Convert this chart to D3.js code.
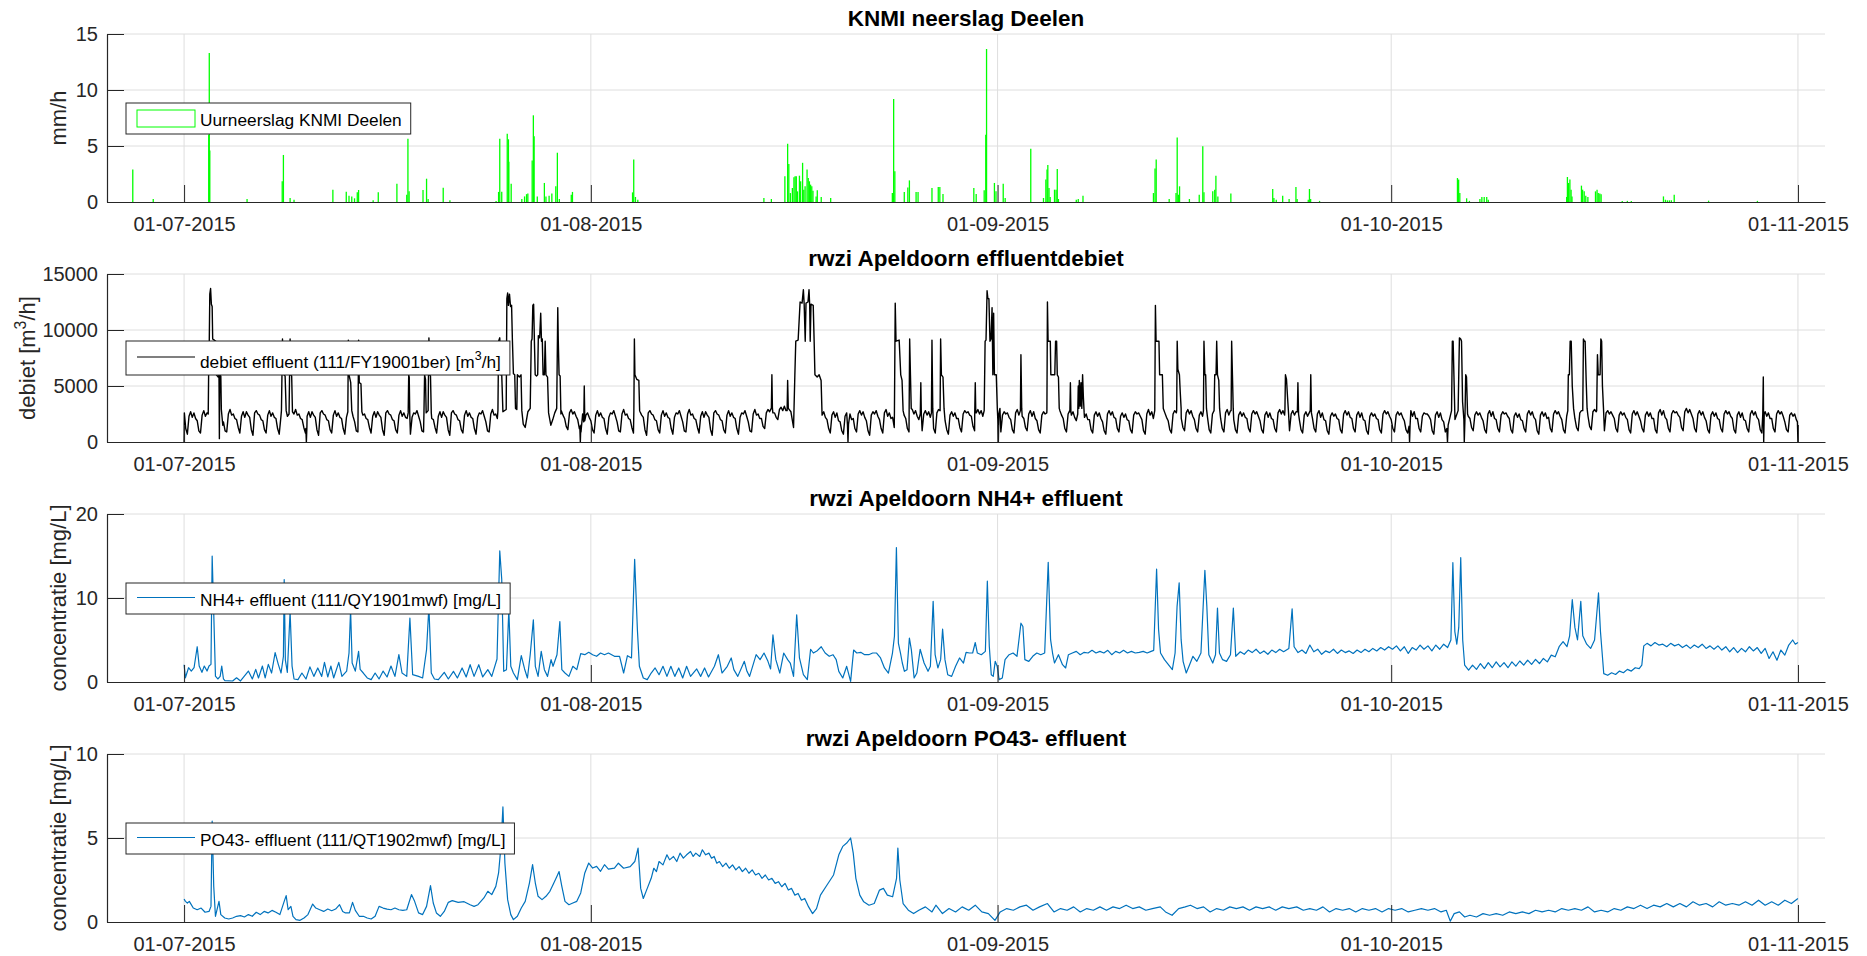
<!DOCTYPE html>
<html>
<head>
<meta charset="utf-8">
<script src="https://cdn.jsdelivr.net/npm/d3@7"></script>
<style>
	body { margin: 0; background: #fff; }
	text { font-family: "Liberation Sans", Arial, Helvetica, sans-serif; }
</style>
</head>
<body>
<div id="chart"></div>
<script>
// Time is stored as days after 01-07-2015 00:00

// Hourly rain, [day, mm/h]
var rainJul = [[-3.91,2.9],[-2.35,0.27],[1.88,6.0],[1.92,13.3],[1.96,4.6],[4.80,0.27],[7.48,1.85],[7.57,4.2],[8.08,0.36],[8.38,0.2],
	[11.34,1.1],[12.36,0.92],[12.57,0.56],[12.78,0.5],[12.99,0.33],[13.2,0.86],[13.3,1.07],[14.41,0.15],[14.8,0.86],[16.22,1.64],
	[16.97,0.65],[17.06,5.65],[17.15,0.95],[18.21,1.07],[18.48,2.08],[18.6,0.27],[19.75,1.28],[20.26,0.15],[23.78,0.1],[23.97,0.9],
	[24.06,5.65],[24.21,0.92],[24.63,6.1],[24.72,5.6],[24.75,3.6],[24.93,1.64],[25.74,0.27],[25.95,0.5],[26.1,0.7],[26.2,0.75],
	[26.53,3.7],[26.62,7.74],[26.68,5.86],[26.92,0.5],[27.46,1.7],[27.58,0.5],[27.82,0.56],[28.03,0.75],[28.33,1.4],[28.45,4.4],
	[28.6,0.27],[29.51,0.65],[29.6,0.9]];
var rainAug = [[34.18,0.86],[34.27,3.8],[34.4,0.45],[34.58,0.2],[44.19,0.36],[44.76,0.27],[45.79,2.3],[46.0,5.2],[46.09,3.4],[46.21,0.8],
	[46.36,1.25],[46.48,2.2],[46.57,2.3],[46.66,2.3],[46.75,0.95],[46.9,2.35],[46.99,1.85],[47.14,3.5],[47.23,1.1],[47.33,1.4],
	[47.48,2.9],[47.57,2.15],[47.66,1.85],[47.75,1.55],[47.84,1.4],[47.93,1.0],[48.17,0.5],[48.26,1.04],[48.56,0.45],[49.28,0.36],
	[53.98,0.8],[54.08,9.2],[54.17,2.74],[54.89,0.9],[55.16,1.3],[55.28,1.93],[55.79,0.9],[55.94,0.9],[57.0,1.25],[57.48,1.34],
	[57.6,1.34],[57.84,0.71],[60.19,1.25],[60.37,0.71],[60.98,1.04],[61.1,6.0],[61.16,13.66],[61.76,1.7],[61.88,0.95]];
var rainSep = [[62.43,1.64],[62.58,0.36],[64.53,4.76],[65.5,0.36],[65.68,2.0],[65.77,2.9],[65.83,3.3],[65.92,1.25],[66.01,0.45],
	[66.34,1.1],[66.46,1.1],[66.55,2.95],[66.64,0.27],[68.0,0.2],[68.15,0.27],[68.51,0.56],[73.88,0.8],[74.0,3.0],[74.09,3.8],
	[75.08,0.27],[75.6,0.8],[75.69,5.77],[75.78,0.65],[75.87,1.4],[76.62,0.27],[77.37,0.65],[77.64,4.97],[77.73,0.86],[78.4,0.95],
	[78.55,1.1],[78.64,2.35],[78.79,0.5],[79.78,0.75],[82.97,1.16],[83.06,0.36],[83.24,0.2],[83.73,0.56],[84.22,0.27],[84.74,1.34],
	[84.83,0.27],[85.68,0.2],[85.77,1.16],[85.86,0.27],[86.54,0.1]];
var rainOct = [[97.05,2.14],[97.14,2.0],[97.23,0.8],[97.75,0.33],[97.96,0.1],[98.76,0.27],[98.91,0.45],[99.09,0.45],[99.28,0.45],
	[99.4,0.2],[105.37,0.45],[105.43,2.23],[105.52,1.7],[105.62,2.0],[105.71,1.1],[105.78,0.5],[106.5,1.46],[106.59,1.1],[106.71,0.95],
	[106.83,0.56],[106.99,0.45],[107.57,0.95],[107.69,1.1],[107.78,0.8],[107.9,0.75],[108.0,0.7],[109.61,0.1],[110.0,0.1],[110.3,0.1],
	[112.75,0.5],[112.9,0.2],[113.05,0.15],[113.2,0.15],[113.35,0.15],[113.57,0.65],[116.19,0.12],[119.91,0.1]];

// Effluent flow, dry weather, every 3 hours (00 .. 21 h), one row per day [m3/h]
var debietJul = [
	2500,1200,700,2300,2700,2200,2600,2100,  1900,1000,800,2400,2800,2300,2600,2200,  2100,1200,700,2200,2600,2500,2800,2300,
	1800,1000,900,2500,2900,2400,2500,2100,  2000,1300,800,2300,2700,2200,2700,2400,  2200,1100,600,2600,2800,2500,2400,2000,
	1900,1100,800,2400,2800,2300,2600,2200,  2100,1200,700,2200,2600,2500,2800,2300,  1800,1000,900,2500,2900,2400,2500,2100,
	2000,1300,800,2300,2700,2200,2700,2400,  2200,1100,600,2600,2800,2500,2400,2000,  1900,1100,800,2400,2800,2300,2600,2200,
	2100,1200,700,2200,2600,2500,2800,2300,  1800,1000,900,2500,2900,2400,2500,2100,  2000,1300,800,2300,2700,2200,2700,2400,
	2200,1100,600,2600,2800,2500,2400,2000,  1900,1100,800,2400,2800,2300,2600,2200,  2100,1200,700,2200,2600,2500,2800,2300,
	1800,1000,900,2500,2900,2400,2500,2100,  2000,1300,800,2300,2700,2200,2700,2400,  2200,1100,600,2600,2800,2500,2400,2000,
	1900,1100,800,2400,2800,2300,2600,2200,  2100,1200,700,2200,2600,2500,2800,2300,  1800,1000,900,2500,2900,2400,2500,2100,
	2400,1800,1500,2800,3100,2700,2900,2600,  2300,1700,1400,2900,3000,2800,2700,2500,  2400,1800,1500,2800,3100,2700,2900,2600,
	2300,1700,1400,2900,3000,2800,2700,2500,  2200,1600,1300,2700,3000,2600,2800,2400,  2100,1400,1100,2600,2900,2500,2700,2300,
	2000,1200,900,2500,2800,2400,2600,2200];
var debietAug = [
	1900,1100,800,2400,2800,2300,2600,2200,  2100,1200,700,2200,2600,2500,2800,2300,  1800,1000,900,2500,2900,2400,2500,2100,
	2000,1300,800,2300,2700,2200,2700,2400,  2200,1100,600,2600,2800,2500,2400,2000,  1900,1100,800,2400,2800,2300,2600,2200,
	2100,1200,700,2200,2600,2500,2800,2300,  1800,1000,900,2500,2900,2400,2500,2100,  2000,1300,800,2300,2700,2200,2700,2400,
	2200,1100,600,2600,2800,2500,2400,2000,  1900,1100,800,2400,2800,2300,2600,2200,  2100,1200,700,2200,2600,2500,2800,2300,
	1800,1000,900,2500,2900,2400,2500,2100,  2100,1400,1200,2600,2900,2700,3000,2600,  2600,2200,2000,2900,3100,2800,3200,2800,
	2700,2000,1500,2900,3000,2700,2800,2600,  2500,1700,1200,2700,2900,2500,2800,2400,  2300,1500,1100,2600,2800,2400,2700,2200,
	2000,1200,800,2400,2700,2200,2600,1900,  1800,1000,700,2300,2600,2300,2500,2000,  2100,1200,900,2500,2800,2400,2700,2200,
	1900,1000,600,2400,2700,2500,2800,2300,  2000,1200,800,2600,2900,2300,2600,2100,  2200,1300,700,2500,2800,2600,2700,2400,
	2100,1200,900,2600,2900,2500,2800,2300,  2000,1300,1000,2500,2800,2400,2700,2200,  2200,1200,800,2600,2900,2500,2800,2300,
	1900,1100,700,2400,2700,2300,2600,2100,  2100,1300,900,2500,2800,2600,2700,2400,  2300,1400,1000,2600,2900,2500,2800,2300,
	2200,1400,1100,2500,2800,2400,2700,2200];
var debietSep = [
	1800,1200,900,2400,2700,2500,2600,2200,  2000,1100,800,2600,2900,2400,2800,2300,  2100,1300,1000,2500,2800,2300,2700,2100,
	1900,1100,800,2400,2700,2500,2600,2300,  2200,1300,1000,2700,2900,2600,2800,2400,  2100,1200,900,2500,2800,2400,2700,2200,
	1900,1000,700,2300,2600,2200,2500,2000,  2000,1100,800,2400,2700,2300,2600,2100,  1800,1000,700,2500,2800,2400,2700,2200,
	2100,1200,900,2300,2600,2200,2500,2000,  1900,1100,800,2400,2700,2500,2600,2300,  2000,1000,700,2500,2900,2400,2700,2100,
	2200,1200,900,2400,2700,2300,2600,2200,  1900,1100,800,2500,2800,2600,2700,2400,  2100,1300,1000,2600,2900,2500,2800,2300,
	2000,1200,900,2400,2700,2300,2600,2200,  2200,1100,800,2500,2800,2600,2700,2400,  2100,1200,900,2600,2900,2400,2800,2300,
	2000,1100,800,2400,2700,2300,2600,2200,  2100,1200,900,2500,2800,2500,2700,2300,  1900,1100,800,2400,2700,2200,2600,2100,
	2000,1200,900,2600,2900,2500,2800,2400,  2200,1300,1000,2500,2800,2400,2700,2300,  2000,1100,800,2400,2700,2300,2600,2200,
	2100,1200,900,2500,2800,2200,2600,2000,  1900,1000,700,2300,2600,2300,2500,2100,  2000,1100,800,2500,2800,2400,2700,2200,
	2100,1200,900,2400,2700,2200,2600,2000,  1900,1000,700,2300,2600,2300,2500,2100,  2000,1100,800,2500,2800,2500,2700,2300];
var debietOct = [
	2000,1200,900,2400,2700,2400,2600,2200,  1900,1100,800,2500,2800,2300,2700,2100,  2100,1200,900,2300,2600,2500,2500,2300,
	2000,1000,700,2400,2700,2200,2600,2000,  1800,900,600,2200,2500,2100,2400,1900,  2000,1200,900,2500,2800,2500,2700,2300,
	2100,1300,1000,2400,2700,2400,2600,2200,  1900,1100,800,2500,2800,2300,2700,2100,  2000,1200,900,2400,2700,2500,2600,2300,
	2100,1100,800,2300,2600,2200,2500,2000,  1900,1200,900,2500,2800,2400,2700,2200,  2000,1000,700,2400,2700,2300,2600,2100,
	2200,1200,900,2500,2800,2500,2700,2300,  2000,1100,800,2300,2600,2300,2500,2100,  2100,1300,1000,2600,2800,2600,2700,2500,
	2300,1400,1100,2700,2900,2700,2800,2600,  2200,1300,1000,2600,2800,2500,2700,2400,  2100,1200,900,2400,2700,2400,2600,2200,
	2000,1100,800,2500,2800,2400,2700,2300,  1900,1200,900,2400,2700,2300,2600,2100,  2100,1100,800,2600,2900,2400,2800,2200,
	2000,1200,900,2500,2800,2600,2700,2400,  2200,1300,1000,2700,3000,2600,2900,2500,  2100,1200,900,2500,2800,2400,2700,2200,
	1900,1100,800,2400,2700,2300,2600,2100,  2000,1200,900,2500,2800,2500,2700,2300,  2100,1100,800,2400,2700,2200,2600,2000,
	1900,1200,900,2500,2800,2400,2700,2200,  2000,1100,800,2400,2700,2300,2600,2100,  2100,1200,900,2500,2800,2500,2700,2300,
	1800,1100,900,2400,2600,2300,2500,2000];

// Effluent flow during rain events and dips, [day, m3/h]
var debietEventsJul = [
	[[0,0],[0.02,2600]],
	[[1.84,2500],[1.87,6000],[1.92,9000],[1.96,13200],[2.02,13700],[2.08,12300],[2.14,12100],[2.18,9200],[2.30,9100],[2.42,9000],
	 [2.46,6000],[2.60,5800],[2.66,6000],[2.69,300],[2.72,6000],[2.80,5900],[2.84,2900],[2.95,1500]],
	[[7.42,2800],[7.46,6000],[7.50,9200],[7.54,6100],[7.70,5900],[7.78,2800]],
	[[8.00,2500],[8.04,6000],[8.08,9200],[8.13,6000],[8.20,5900],[8.26,2700]],
	[[9.28,1200],[9.32,0],[9.36,1300]],
	[[12.48,2700],[12.52,9100],[12.57,6000],[12.70,5300],[12.78,2800]],
	[[13.26,2800],[13.30,9100],[13.35,5300],[13.48,5200],[13.55,2700]],
	[[17.08,2600],[17.12,6000],[17.16,5800],[17.20,2500]],
	[[18.28,2500],[18.33,6000],[18.40,5600],[18.45,2600],[18.60,2800],[18.66,9300],[18.72,6000],[18.78,5900],[18.84,2600]],
	[[23.92,2800],[23.97,9000],[24.06,9300],[24.12,6000],[24.21,6000],[24.30,2700],[24.55,2900],[24.60,12800],[24.66,13300],
	 [24.72,12200],[24.80,13200],[24.88,12100],[24.96,12200],[25.02,9200],[25.10,6100],[25.20,6000],[25.26,3000],[25.36,2900],
	 [25.40,6000],[25.55,5800],[25.68,6000],[25.74,2800],[25.85,1600],[26.0,1300],[26.2,2700],[26.38,3000],[26.46,9000],
	 [26.52,9200],[26.58,12200],[26.64,12300],[26.70,9000],[26.76,6000],[26.86,5900],[26.95,6000],[27.00,9500],[27.10,9300],
	 [27.18,11500],[27.24,9000],[27.30,9200],[27.36,6000],[27.46,6000],[27.52,9000],[27.58,6000],[27.70,5800],[27.78,2600],
	 [27.95,1500],[28.10,2000],[28.25,2600],[28.40,3000],[28.48,12000],[28.52,9000],[28.58,6000],[28.66,5900],[28.72,2500]],
	[[30.16,1400],[30.20,0],[30.24,1500]],
	[[30.46,1800],[30.50,5000],[30.54,1900]]
];
var debietEventsAug = [
	[[34.28,2800],[34.32,9200],[34.36,6000],[34.50,5600],[34.66,5500],[34.72,2800]],
	[[44.76,3000],[44.80,6000],[44.84,3000]],
	[[45.96,2800],[46.00,5500],[46.05,3000],[46.25,2700],[46.45,1300],[46.55,6000],[46.62,9000],[46.80,9100],[46.95,12500],
	 [47.10,12400],[47.20,13600],[47.26,12300],[47.34,9000],[47.40,12400],[47.55,12500],[47.63,13600],[47.68,12200],[47.72,9000],
	 [47.78,12300],[47.95,12200],[48.02,9000],[48.08,6000],[48.25,5800],[48.40,6000],[48.55,5500],[48.62,2600]],
	[[50.56,1500],[50.60,0],[50.64,1600]],
	[[54.14,2800],[54.20,12400],[54.26,9000],[54.50,9100],[54.62,6000],[54.72,5500],[54.80,2800]],
	[[55.26,2800],[55.30,9200],[55.36,6000],[55.42,3000]],
	[[56.11,2500],[56.15,5300],[56.19,2500]],
	[[56.96,2600],[57.00,9100],[57.06,3000]],
	[[57.62,2800],[57.66,9200],[57.72,6000],[57.84,5800],[57.92,3000]],
	[[60.26,2600],[60.30,5300],[60.34,2600]],
	[[60.98,2800],[61.05,9000],[61.12,9100],[61.20,13500],[61.26,12800],[61.34,12800],[61.42,9000],[61.50,9200],[61.58,12000],
	 [61.64,6000],[61.70,11500],[61.76,6000],[61.90,6000],[61.98,3000],[62.02,2000],[62.06,0],[62.10,2500],[62.18,3000]]
];
var debietEventsSep = [
	[[63.74,2800],[63.78,7800],[63.84,3000]],
	[[65.76,2800],[65.80,12500],[65.85,9000],[66.02,9000],[66.06,6000],[66.36,6000],[66.42,9000],[66.50,9000],[66.55,6000],
	 [66.64,5800],[66.70,3000]],
	[[67.51,2700],[67.55,5300],[67.59,2700]],
	[[68.11,2500],[68.15,5000],[68.19,3000],[68.23,5500],[68.30,3200],[68.36,5300],[68.42,3000],[68.48,6000],[68.54,4000],[68.60,2600]],
	[[73.98,2800],[74.03,12200],[74.08,9000],[74.30,9000],[74.35,6000],[74.56,6000],[74.63,3000]],
	[[75.65,2800],[75.69,9000],[75.74,6500],[75.86,6000],[75.92,4500],[75.99,3000]],
	[[77.69,2800],[77.73,9000],[77.80,6000],[77.86,6000],[77.92,3000]],
	[[78.50,2800],[78.55,6000],[78.65,6000],[78.70,9000],[78.76,6000],[78.86,5500],[78.92,3000]],
	[[79.80,2800],[79.84,9000],[79.90,6000],[79.96,3000]],
	[[83.90,2800],[83.94,6000],[84.02,5600],[84.10,4000],[84.18,2500]],
	[[84.85,2700],[84.89,5300],[84.94,2500]],
	[[85.83,2800],[85.87,6000],[85.92,2600]]
];
var debietEventsOct = [
	[[93.36,1400],[93.40,0],[93.44,1500]],
	[[96.24,1200],[96.29,0],[96.34,1500],[96.60,2800],[96.66,9000],[96.72,9000],[96.78,6000],[96.86,2000],[97.10,2800],
	 [97.20,9300],[97.30,9200],[97.36,9000],[97.44,3600],[97.54,2000],[97.57,0],[97.62,2000],[97.68,6000],[97.74,5800],[97.82,2500]],
	[[105.46,2800],[105.50,6000],[105.58,6000],[105.64,9000],[105.72,9000],[105.80,5000],[105.90,3000]],
	[[106.60,2800],[106.65,9200],[106.72,9000],[106.78,9000],[106.86,5500],[106.93,3000]],
	[[107.66,2800],[107.72,7800],[107.78,6000],[107.92,6000],[107.98,9200],[108.04,9000],[108.10,5000],[108.18,3000]],
	[[120.32,2500],[120.36,5800],[120.39,0],[120.43,2500]],
	[[122.96,1800],[123.0,0]]
];

// NH4+ effluent, [day, mg/L]
var nh4Jul = [[0,2.06],[0.1,0.5],[0.34,1.7],[0.55,1.3],[0.76,1.7],[1.0,4.2],[1.15,1.9],[1.36,1.15],[1.54,1.9],[1.75,1.3],[1.9,1.9],
	[2.05,2.1],[2.14,15.0],[2.26,8.2],[2.39,0.7],[2.57,0.36],[2.75,0.67],[2.87,1.9],[3.0,0.36],[3.11,0.16],[3.7,0.12],[4.0,0.5],
	[4.3,0.12],[4.9,1.3],[5.2,0.36],[5.46,1.5],[5.67,0.48],[5.97,1.9],[6.18,0.48],[6.42,2.1],[6.67,1.07],[6.94,3.5],[7.18,2.1],
	[7.39,1.07],[7.57,3.06],[7.63,12.2],[7.72,2.6],[7.87,1.15],[8.08,8.4],[8.23,1.9],[8.38,0.36],[8.68,0.28],[8.98,1.07],[9.29,0.36],
	[9.59,1.8],[9.89,0.67],[10.19,1.67],[10.49,0.67],[10.7,2.34],[10.95,0.6],[11.19,1.9],[11.4,0.48],[11.79,2.34],[12.03,0.67],
	[12.39,1.3],[12.57,3.45],[12.69,8.6],[12.81,2.26],[13.05,1.3],[13.3,3.65],[13.42,1.5],[13.66,1.07],[13.96,0.48],[14.26,0.28],
	[14.56,1.07],[14.86,0.36],[15.17,1.3],[15.47,0.6],[15.77,1.9],[16.07,0.67],[16.37,3.25],[16.61,1.07],[16.97,0.67],[17.21,7.6],
	[17.42,0.87],[17.87,0.67],[18.18,0.48],[18.48,3.85],[18.66,9.0],[18.84,1.07],[19.08,0.36],[19.38,0.28],[19.83,1.15],[20.14,0.36],
	[20.53,1.27],[20.83,0.48],[21.19,1.67],[21.5,0.6],[21.8,2.06],[22.1,0.67],[22.46,2.06],[22.76,0.6],[23.15,1.47],[23.45,0.67],
	[23.85,2.74],[24.06,15.6],[24.21,12.2],[24.36,1.27],[24.57,1.47],[24.75,8.6],[24.9,1.87],[25.1,1.07],[25.4,0.28],[25.7,3.13],
	[25.95,1.55],[26.17,0.48],[26.38,3.25],[26.62,7.4],[26.77,1.87],[26.98,0.67],[27.22,3.65],[27.46,1.47],[27.7,0.67],[27.97,2.66],
	[28.12,1.87],[28.42,3.25],[28.64,7.2],[28.79,1.47],[29.03,1.07],[29.33,0.67],[29.63,1.87],[29.93,1.47],[30.23,3.37],[30.54,3.25],
	[30.84,3.53]];
var nh4Aug = [[31.14,3.25],[31.44,3.06],[31.74,3.45],[32.04,3.25],[32.34,3.45],[32.8,3.06],[33.19,3.06],[33.5,1.07],[33.79,3.13],
	[34.1,2.86],[34.34,14.6],[34.55,6.2],[34.7,1.87],[35.0,0.48],[35.3,0.28],[35.6,1.07],[35.9,1.67],[36.2,0.87],[36.5,1.87],[36.8,0.67],
	[37.1,1.87],[37.4,0.67],[37.7,1.67],[38.0,0.48],[38.3,1.87],[38.6,0.67],[39.07,1.55],[39.37,0.67],[39.67,1.67],[39.97,0.6],
	[40.42,1.87],[40.72,3.25],[41.0,1.07],[41.4,1.87],[41.7,2.86],[41.9,1.47],[42.2,0.67],[42.7,2.46],[42.9,1.27],[43.1,0.67],
	[43.6,3.25],[43.9,2.66],[44.2,3.45],[44.5,2.46],[44.7,1.55],[44.88,5.6],[45.1,2.66],[45.4,1.07],[45.7,3.45],[46.0,2.66],[46.2,2.26],
	[46.45,0.67],[46.69,8.0],[46.9,2.86],[47.2,0.87],[47.5,0.28],[47.75,3.9],[47.96,3.45],[48.26,3.73],[48.56,4.2],[48.86,3.45],
	[49.17,3.06],[49.46,3.25],[49.7,2.66],[49.9,1.27],[50.2,0.48],[50.5,1.87],[50.8,0.08],[51.03,3.81],[51.27,3.45],[51.57,3.53],
	[51.87,3.25],[52.18,3.25],[52.48,3.45],[52.78,3.45],[53.08,2.86],[53.38,1.67],[53.68,1.07],[53.99,3.45],[54.14,5.44],[54.29,16.0],
	[54.44,4.64],[54.6,3.45],[54.74,2.26],[54.9,1.27],[55.1,1.47],[55.28,5.24],[55.43,3.83],[55.64,0.48],[55.85,1.07],[56.1,3.9],
	[56.4,2.26],[56.7,1.27],[56.88,1.87],[57.09,9.6],[57.24,3.25],[57.45,1.67],[57.66,2.66],[57.81,6.3],[57.99,2.66],[58.2,0.87],
	[58.5,0.67],[58.8,1.87],[59.1,2.86],[59.4,2.26],[59.6,3.53],[59.86,3.45],[60.1,3.45],[60.3,4.7],[60.46,3.45],[60.76,3.25],
	[61.07,3.65],[61.22,12.0],[61.37,4.24],[61.52,0.87],[61.67,0.67],[61.82,2.46],[61.97,1.87]];
var nh4Sep = [[62.12,0.28],[62.36,0.48],[62.57,2.66],[62.88,3.25],[63.18,3.45],[63.48,3.06],[63.78,7.0],[63.93,6.6],[64.08,2.66],
	[64.38,2.46],[64.68,3.06],[64.99,3.45],[65.29,3.25],[65.59,3.45],[65.86,14.25],[66.04,5.04],[66.19,3.45],[66.34,2.26],[66.64,3.25],
	[66.95,2.06],[67.19,1.67],[67.4,3.25],[67.7,3.45],[68.0,3.65],[68.3,3.25],[68.6,3.53],[68.9,3.45],[69.2,3.77],[69.5,3.45],
	[69.8,3.65],[70.1,3.45],[70.4,3.77],[70.7,3.25],[71.0,3.65],[71.3,3.45],[71.6,3.77],[71.9,3.45],[72.2,3.65],[72.5,3.45],
	[72.8,3.53],[73.1,3.65],[73.4,3.45],[73.7,3.65],[73.9,3.77],[74.12,13.45],[74.27,6.27],[74.42,3.45],[74.72,2.66],[75.02,2.06],
	[75.32,1.47],[75.53,3.45],[75.68,8.97],[75.84,11.8],[75.99,5.04],[76.14,2.46],[76.38,1.07],[76.59,1.87],[76.89,3.06],[77.19,2.46],
	[77.5,3.45],[77.8,13.3],[77.95,8.97],[78.1,3.25],[78.4,2.26],[78.61,3.25],[78.76,8.8],[78.91,3.45],[79.15,2.66],[79.45,2.46],
	[79.75,3.25],[79.97,8.8],[80.15,3.06],[80.5,3.6],[80.8,3.3],[81.1,3.8],[81.4,3.5],[81.7,3.9],[82.0,3.4],[82.3,3.7],[82.6,3.3],
	[82.9,3.8],[83.2,3.5],[83.5,3.9],[83.8,3.6],[84.2,4.0],[84.45,8.7],[84.6,4.2],[84.9,3.5],[85.2,3.8],[85.5,3.4],[85.8,4.4],
	[86.1,3.6],[86.4,3.9],[86.7,3.3],[87.0,3.7],[87.3,3.5],[87.6,3.9],[87.9,3.4],[88.2,3.8],[88.5,3.5],[88.8,3.7],[89.1,3.4],
	[89.4,3.8],[89.7,3.5],[90.0,3.9],[90.3,3.6],[90.6,4.0],[90.9,3.7],[91.2,4.1],[91.5,3.8],[91.8,4.2]];
var nh4Oct = [[92.1,3.9],[92.4,4.3],[92.7,3.7],[93.0,4.2],[93.3,3.4],[93.6,4.1],[93.9,3.8],[94.2,4.4],[94.5,3.9],[94.8,4.3],
	[95.1,3.7],[95.4,4.4],[95.7,3.9],[96.0,4.5],[96.3,4.1],[96.55,5.0],[96.7,14.2],[96.85,6.0],[97.0,4.5],[97.15,6.5],[97.3,14.8],
	[97.45,5.0],[97.6,2.0],[97.9,1.4],[98.2,2.0],[98.5,1.5],[98.8,2.2],[99.1,1.6],[99.4,2.3],[99.7,1.7],[100.0,2.4],[100.3,1.8],
	[100.6,2.3],[100.9,1.7],[101.2,2.4],[101.5,1.9],[101.8,2.5],[102.1,2.0],[102.4,2.6],[102.7,2.1],[103.0,2.7],[103.3,2.2],
	[103.6,2.8],[103.9,2.4],[104.2,3.2],[104.5,3.0],[104.8,4.2],[105.1,4.8],[105.4,4.2],[105.6,5.5],[105.8,9.8],[106.0,6.5],
	[106.2,5.0],[106.45,9.6],[106.6,5.5],[106.9,4.5],[107.2,4.0],[107.5,5.0],[107.8,10.6],[107.95,6.0],[108.1,3.0],[108.2,1.0],
	[108.5,0.8],[108.8,1.1],[109.1,0.9],[109.4,1.3],[109.7,1.1],[110.0,1.5],[110.3,1.3],[110.6,1.7],[110.9,1.6],[111.1,2.0],
	[111.25,4.3],[111.5,4.6],[111.8,4.3],[112.1,4.7],[112.4,4.4],[112.7,4.5],[113.0,4.2],[113.3,4.6],[113.6,4.3],[113.9,4.5],
	[114.2,4.1],[114.5,4.4],[114.8,4.0],[115.1,4.4],[115.4,4.1],[115.7,4.5],[116.0,4.0],[116.3,4.3],[116.6,3.9],[116.9,4.3],
	[117.2,3.8],[117.5,4.2],[117.8,3.6],[118.1,4.1],[118.4,3.5],[118.7,4.0],[119.0,3.6],[119.3,4.2],[119.6,3.7],[119.9,4.1],
	[120.2,3.4],[120.5,4.0],[120.8,2.8],[121.1,3.6],[121.4,2.6],[121.7,3.8],[122.0,3.2],[122.3,4.4],[122.6,5.0],[122.8,4.5],[123.0,4.7]];

// PO43- effluent, [day, mg/L]
var po4Jul = [[0,1.37],[0.1,1.23],[0.25,1.13],[0.4,1.23],[0.7,0.83],[1.0,0.73],[1.3,0.83],[1.6,0.58],[1.9,0.63],[2.05,0.93],[2.14,6.0],
	[2.26,2.12],[2.39,0.34],[2.57,0.93],[2.66,1.23],[2.8,0.44],[3.1,0.24],[3.4,0.18],[3.7,0.24],[4.0,0.34],[4.3,0.38],[4.6,0.3],
	[4.9,0.44],[5.2,0.34],[5.5,0.58],[5.8,0.44],[6.1,0.63],[6.4,0.54],[6.7,0.69],[7.0,0.58],[7.3,0.44],[7.63,1.23],[7.78,1.57],
	[7.93,0.73],[8.14,0.93],[8.3,0.34],[8.53,0.14],[8.84,0.1],[9.14,0.24],[9.44,0.44],[9.8,1.07],[10.04,0.83],[10.34,0.73],
	[10.64,0.63],[10.95,0.77],[11.25,0.67],[11.55,0.77],[11.85,1.03],[12.09,0.63],[12.3,0.54],[12.6,0.54],[12.84,1.17],[13.05,0.69],
	[13.35,0.34],[13.66,0.34],[13.96,0.24],[14.26,0.18],[14.56,0.34],[14.86,0.93],[15.17,0.83],[15.47,0.77],[15.77,0.73],[16.07,0.83],
	[16.37,0.73],[16.67,0.69],[16.97,0.73],[17.33,1.63],[17.57,1.23],[17.87,0.54],[18.18,0.44],[18.48,0.93],[18.78,2.16],[18.99,1.13],
	[19.23,0.54],[19.53,0.34],[19.83,0.63],[20.14,1.17],[20.44,1.27],[20.89,1.17],[21.34,1.21],[21.8,1.03],[22.1,0.93],[22.4,1.03],
	[22.85,1.43],[23.15,1.83],[23.45,1.63],[23.76,2.12],[23.97,2.92],[24.15,4.5],[24.3,6.85],[24.45,3.51],[24.66,1.33],[24.9,0.44],
	[25.1,0.14],[25.4,0.34],[25.7,0.83],[26.0,1.23],[26.32,2.32],[26.56,3.41],[26.77,2.32],[26.98,1.53],[27.28,1.33],[27.58,1.53],
	[27.88,1.83],[28.18,2.32],[28.42,2.72],[28.58,3.0],[28.79,2.12],[29.03,1.23],[29.33,1.03],[29.63,1.13],[29.93,1.23],[30.23,1.73],
	[30.54,2.92],[30.84,3.51]];
var po4Aug = [[31.14,3.21],[31.44,3.31],[31.74,3.02],[32.04,3.41],[32.34,3.15],[32.8,3.21],[33.1,3.5],[33.5,3.2],[34.0,3.3],[34.35,3.6],
	[34.6,4.4],[34.8,2.0],[35.0,1.4],[35.3,2.0],[35.6,2.6],[35.8,3.2],[36.0,3.0],[36.2,3.6],[36.5,3.4],[36.8,4.0],[37.0,3.7],[37.3,3.9],
	[37.55,3.6],[37.8,4.1],[38.05,3.8],[38.3,4.0],[38.6,4.2],[38.8,3.9],[39.0,4.1],[39.3,3.9],[39.5,4.3],[39.75,4.0],[40.0,4.1],
	[40.2,3.8],[40.4,3.9],[40.6,3.5],[40.8,3.6],[41.05,3.3],[41.3,3.5],[41.55,3.2],[41.8,3.4],[42.05,3.1],[42.3,3.3],[42.55,3.0],
	[42.8,3.2],[43.05,2.9],[43.3,3.1],[43.55,2.8],[43.8,2.9],[44.05,2.6],[44.3,2.8],[44.55,2.5],[44.8,2.6],[45.05,2.3],[45.3,2.4],
	[45.55,2.1],[45.8,2.3],[46.05,1.9],[46.3,2.0],[46.55,1.6],[46.8,1.7],[47.05,1.3],[47.3,1.4],[47.6,0.9],[47.9,0.5],[48.2,0.8],
	[48.5,1.6],[49.0,2.2],[49.5,2.8],[49.9,4.0],[50.2,4.5],[50.5,4.7],[50.8,5.0],[51.0,4.1],[51.2,2.6],[51.5,1.6],[51.8,1.2],[52.2,1.0],
	[52.6,1.1],[53.0,1.9],[53.3,2.0],[53.6,1.6],[54.0,1.5],[54.3,2.6],[54.4,4.4],[54.55,2.5],[54.8,1.1],[55.2,0.7],[55.6,0.5],[56.0,0.7],
	[56.5,0.9],[57.0,0.6],[57.3,1.0],[57.8,0.5],[58.3,0.8],[58.8,0.6],[59.3,0.9],[59.8,0.7],[60.3,1.0],[60.8,0.6],[61.3,0.5],[61.8,0.1]];
var po4Sep = [[62.2,0.6],[62.7,0.8],[63.2,0.7],[63.7,0.9],[64.2,1.0],[64.7,0.7],[65.2,0.9],[65.8,1.1],[66.3,0.6],[66.8,0.8],[67.3,0.7],
	[67.8,0.9],[68.3,0.6],[68.8,0.8],[69.3,0.7],[69.8,0.9],[70.3,0.7],[70.8,0.9],[71.3,0.8],[71.8,1.0],[72.3,0.8],[72.8,0.9],[73.3,0.7],
	[73.8,0.8],[74.4,0.9],[74.8,0.6],[75.3,0.4],[75.8,0.8],[76.3,0.9],[76.7,1.0],[77.2,0.8],[77.7,0.9],[78.2,0.6],[78.7,0.8],[79.2,0.7],
	[79.7,0.9],[80.2,0.8],[80.7,0.9],[81.2,0.7],[81.7,0.9],[82.2,0.8],[82.7,0.9],[83.2,0.7],[83.7,0.9],[84.2,0.8],[84.8,0.9],[85.3,0.7],
	[85.8,0.8],[86.3,0.7],[86.8,0.9],[87.3,0.6],[87.8,0.8],[88.3,0.7],[88.8,0.8],[89.3,0.6],[89.8,0.8],[90.3,0.7],[90.8,0.8],[91.3,0.6],
	[91.8,0.8]];
var po4Oct = [[92.3,0.7],[92.8,0.8],[93.3,0.6],[93.8,0.7],[94.3,0.8],[94.8,0.7],[95.3,0.8],[95.8,0.6],[96.2,0.7],[96.5,0.05],[96.8,0.5],
	[97.2,0.6],[97.6,0.3],[98.0,0.4],[98.5,0.3],[99.0,0.5],[99.5,0.4],[100.0,0.5],[100.5,0.4],[101.0,0.6],[101.5,0.5],[102.0,0.6],
	[102.5,0.5],[103.0,0.7],[103.5,0.6],[104.0,0.7],[104.5,0.6],[105.0,0.8],[105.5,0.7],[106.0,0.8],[106.5,0.7],[107.0,0.9],[107.5,0.6],
	[108.0,0.7],[108.5,0.6],[109.0,0.8],[109.5,0.7],[110.0,0.9],[110.5,0.8],[111.0,1.0],[111.5,0.8],[112.0,1.0],[112.5,0.9],[113.0,1.1],
	[113.5,0.9],[114.0,1.1],[114.5,0.9],[115.0,1.2],[115.5,1.0],[116.0,1.1],[116.5,0.9],[117.0,1.2],[117.5,1.0],[118.0,1.1],[118.5,1.0],
	[119.0,1.2],[119.5,1.0],[120.0,1.3],[120.5,1.0],[121.0,1.2],[121.5,1.0],[122.0,1.3],[122.5,1.1],[123.0,1.4]];

// Axis ticks and texts
var xTickDays = [0, 31, 62, 92, 123];
var rainTicks = [0, 5, 10, 15];
var debietTicks = [0, 5000, 10000, 15000];
var nh4Ticks = [0, 10, 20];
var po4Ticks = [0, 5, 10];
var titles = ["KNMI neerslag Deelen", "rwzi Apeldoorn effluentdebiet", "rwzi Apeldoorn NH4+ effluent", "rwzi Apeldoorn PO43- effluent"];

// Global variables
var svg,
	x,
	plotLeft = 107,
	plotRight = 1825,
	plotH = 168,
	tops = [34, 274, 514, 754],
	dayMs = 864e5,
	t0 = Date.UTC(2015, 6, 1);

function toDate(d) {
	return new Date(t0 + d * dayMs);
}

function init() {
	svg = d3.select("#chart")
		.append("svg")
		.attr("width", 1867)
		.attr("height", 956);

	x = d3.scaleUtc()
		.domain([toDate(-5.875), toDate(125.0625)])
		.range([plotLeft, plotRight]);

	// rain
	var rain = rainJul.concat(rainAug, rainSep, rainOct);
	drawPanel(0, rainTicks, [["mm/h"]], 66, function(g, y) {
		g.selectAll("line.bar")
			.data(rain)
			.enter()
			.append("line")
			.attr("x1", function(d) { return x(toDate(d[0])); })
			.attr("x2", function(d) { return x(toDate(d[0])); })
			.attr("y1", y(0))
			.attr("y2", function(d) { return y(d[1]); })
			.attr("stroke", "#00ff00")
			.attr("stroke-width", 1.3);
	}, { parts: [["Uurneerslag KNMI Deelen"]], h: 31, off: 69, swatch: "bar", color: "#00ff00" });

	// flow
	var debiet = buildDebiet();
	drawPanel(1, debietTicks, [["debiet [m"], ["3", true], ["/h]"]], 35, function(g, y) {
		drawLine(g, y, debiet, "#000", 1.4);
	}, { parts: [["debiet effluent (111/FY19001ber) [m"], ["3", true], ["/h]"]], h: 34, off: 67, swatch: "line", color: "#000" });

	var nh4 = nh4Jul.concat(nh4Aug, nh4Sep, nh4Oct);
	drawPanel(2, nh4Ticks, [["concentratie [mg/L]"]], 66, function(g, y) {
		drawLine(g, y, nh4, "#0072bd", 1.2);
	}, { parts: [["NH4+ effluent (111/QY1901mwf) [mg/L]"]], h: 31, off: 69, swatch: "line", color: "#0072bd" });

	var po4 = po4Jul.concat(po4Aug, po4Sep, po4Oct);
	drawPanel(3, po4Ticks, [["concentratie [mg/L]"]], 66, function(g, y) {
		drawLine(g, y, po4, "#0072bd", 1.2);
	}, { parts: [["PO43- effluent (111/QT1902mwf) [mg/L]"]], h: 31, off: 69, swatch: "line", color: "#0072bd" });
}

function buildDebiet() {
	// dry weather points every 3 hours, replaced by the event points where an event is
	var pts = [];
	var months = [debietJul, debietAug, debietSep, debietOct];
	var firstDay = [0, 31, 62, 92];
	months.forEach(function(arr, m) {
		arr.forEach(function(v, i) { pts.push([firstDay[m] + i * 0.125, v]); });
	});
	var events = debietEventsJul.concat(debietEventsAug, debietEventsSep, debietEventsOct);
	events.forEach(function(ev) {
		var a = ev[0][0], b = ev[ev.length - 1][0];
		pts = pts.filter(function(p) { return p[0] < a || p[0] > b; }).concat(ev);
	});
	pts.sort(function(p, q) { return p[0] - q[0]; });
	return pts;
}

function drawLine(g, y, data, color, w) {
	var line = d3.line()
		.x(function(d) { return x(toDate(d[0])); })
		.y(function(d) { return y(d[1]); });
	g.append("path")
		.datum(data)
		.attr("d", line)
		.attr("fill", "none")
		.attr("stroke", color)
		.attr("stroke-width", w)
		.attr("stroke-linejoin", "round");
}

function addParts(t, parts, size) {
	parts.forEach(function(p) {
		var s = t.append("tspan").text(p[0]);
		if (p[1]) s.attr("font-size", size * 0.72).attr("dy", -size * 0.42);
		else if (t.selectAll("tspan").size() > 1) s.attr("dy", size * 0.42);
	});
}

function drawPanel(i, yTicks, yLabel, labelX, drawMarks, legend) {
	var top = tops[i],
		bottom = top + plotH;
	var y = d3.scaleLinear()
		.domain([0, yTicks[yTicks.length - 1]])
		.range([bottom, top]);
	var g = svg.append("g");
	var xTicks = xTickDays.map(toDate);

	// grid
	g.selectAll("line.gy")
		.data(yTicks.slice(1))
		.enter()
		.append("line")
		.attr("x1", plotLeft).attr("x2", plotRight)
		.attr("y1", y).attr("y2", y)
		.attr("stroke", "#dedede");
	g.selectAll("line.gx")
		.data(xTicks)
		.enter()
		.append("line")
		.attr("x1", x).attr("x2", x)
		.attr("y1", top).attr("y2", bottom)
		.attr("stroke", "#dedede");

	drawMarks(g, y);

	// axes
	var ya = g.append("g")
		.attr("transform", "translate(" + plotLeft + ",0)")
		.call(d3.axisLeft(y).tickValues(yTicks).tickFormat(d3.format("d"))
			.tickSizeInner(-17).tickSizeOuter(0).tickPadding(9));
	var xa = g.append("g")
		.attr("transform", "translate(0," + bottom + ")")
		.call(d3.axisBottom(x).tickValues(xTicks).tickFormat(d3.utcFormat("%d-%m-%Y"))
			.tickSizeInner(-17).tickSizeOuter(0).tickPadding(15));
	[ya, xa].forEach(function(a) {
		a.attr("font-family", null).attr("font-size", 20);
		a.select(".domain").attr("stroke", "#262626").attr("stroke-width", 1.2);
		a.selectAll(".tick line").attr("stroke", "#262626");
		a.selectAll(".tick text").attr("fill", "#262626");
	});

	// title
	g.append("text")
		.attr("x", (plotLeft + plotRight) / 2)
		.attr("y", top - 8)
		.attr("text-anchor", "middle")
		.attr("font-size", 22.5)
		.attr("font-weight", "bold")
		.attr("fill", "#000")
		.text(titles[i]);

	// y label
	var yl = g.append("text")
		.attr("transform", "translate(" + labelX + "," + (top + bottom) / 2 + ") rotate(-90)")
		.attr("text-anchor", "middle")
		.attr("font-size", 22)
		.attr("fill", "#262626");
	addParts(yl, yLabel, 22);

	// legend
	var ly = top + legend.off,
		cy = ly + legend.h / 2;
	var box = g.append("rect")
		.attr("x", 126).attr("y", ly)
		.attr("height", legend.h)
		.attr("fill", "#fff")
		.attr("stroke", "#262626");
	if (legend.swatch == "bar") {
		g.append("rect")
			.attr("x", 137).attr("y", cy - 8.5)
			.attr("width", 58).attr("height", 17)
			.attr("fill", "none")
			.attr("stroke", legend.color);
	} else {
		g.append("line")
			.attr("x1", 137).attr("x2", 195)
			.attr("y1", cy - 1).attr("y2", cy - 1)
			.attr("stroke", legend.color)
			.attr("stroke-width", 1.2);
	}
	var lt = g.append("text")
		.attr("x", 200)
		.attr("y", cy + (legend.h > 31 ? 9.5 : 7.5))
		.attr("font-size", 17.3)
		.attr("fill", "#000");
	addParts(lt, legend.parts, 17.3);
	box.attr("width", lt.node().getBBox().width + 74 + 9);
}

window.onload = init;
</script>
</body>
</html>
